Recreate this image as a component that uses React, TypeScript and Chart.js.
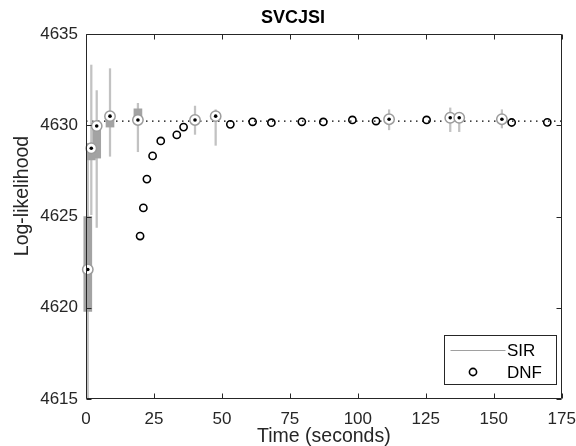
import React, { useEffect, useRef } from 'react';
import { Chart, registerables } from 'chart.js';

Chart.register(...registerables);

// ---------- data ----------
const chartTitle = 'SVCJSI';
const xAxisTitle = 'Time (seconds)';
const yAxisTitle = 'Log-likelihood';
const xTicks = [0, 25, 50, 75, 100, 125, 150, 175];
const yTicks = [4615, 4620, 4625, 4630, 4635];
const legendLabels = ['SIR', 'DNF'];

// SIR box plots (time, quartiles, whiskers)
const sirTimes = [0.66, 1.95, 3.94, 8.83, 19.1, 40.1, 47.7, 111.5, 134.0, 137.3, 153.0];
const sirMedian = [4622.1, 4628.74, 4629.96, 4630.5, 4630.29, 4630.29, 4630.5, 4630.33, 4630.41, 4630.41, 4630.33];
const sirQ1 = [4619.8, 4628.1, 4628.2, 4629.9, 4630.28, 4630.2, 4630.4, 4630.25, 4630.3, 4630.3, 4630.25];
const sirQ3 = [4625.0, 4629.0, 4630.1, 4630.5, 4630.9, 4630.4, 4630.55, 4630.4, 4630.5, 4630.5, 4630.4];
const sirLow = [4615.0, 4625.1, 4624.4, 4628.3, 4628.55, 4629.5, 4628.9, 4629.75, 4629.65, 4629.65, 4629.85];
const sirHigh = [4628.5, 4633.3, 4631.9, 4633.1, 4631.2, 4631.05, 4630.85, 4630.85, 4630.95, 4630.7, 4630.85];

// DNF estimates
const dnfTimes = [19.9, 21.1, 22.4, 24.5, 27.5, 33.4, 35.9, 53.1, 61.3, 68.2, 79.4, 87.3, 98.0, 106.7, 125.3, 156.6, 169.7];
const dnfValues = [4623.93, 4625.47, 4627.05, 4628.32, 4629.14, 4629.47, 4629.9, 4630.05, 4630.19, 4630.14, 4630.19, 4630.18, 4630.29, 4630.23, 4630.29, 4630.15, 4630.16];

// reference (true) log-likelihood
const refValue = 4630.23;
const refRange = [0, 175];

const AXIS = '#262626';
const BOX = '#a3a3a3';
const WHISK = '#c2c2c2';
const RING = '#9c9c9c';
const FONT = "'Liberation Sans', Arial, Helvetica, sans-serif";

const matlabAxes = {
  id: 'matlabAxes',
  afterDatasetsDraw(chart: any) {
    const { ctx, chartArea: a, scales } = chart;
    const x = scales.x;
    const y = scales.y;
    const L = Math.round(a.left) + 0.5;
    const R = Math.round(a.right) - 0.5;
    const T = Math.round(a.top) + 0.5;
    const B = Math.round(a.bottom) - 0.5;
    const tl = 5;
    ctx.save();
    ctx.strokeStyle = AXIS;
    ctx.lineWidth = 1;
    ctx.beginPath();
    ctx.rect(L, T, R - L, B - T);
    x.ticks.forEach((t: any) => {
      const px = Math.round(x.getPixelForValue(t.value)) + 0.5;
      ctx.moveTo(px, B);
      ctx.lineTo(px, B - tl);
      ctx.moveTo(px, T);
      ctx.lineTo(px, T + tl);
    });
    y.ticks.forEach((t: any) => {
      const py = Math.round(y.getPixelForValue(t.value)) + 0.5;
      ctx.moveTo(L, py);
      ctx.lineTo(L + tl, py);
      ctx.moveTo(R, py);
      ctx.lineTo(R - tl, py);
    });
    ctx.stroke();

    // y axis title
    ctx.save();
    ctx.translate(22.5, 196);
    ctx.rotate(-Math.PI / 2);
    ctx.fillStyle = AXIS;
    ctx.font = `19.5px ${FONT}`;
    ctx.textAlign = 'center';
    ctx.textBaseline = 'middle';
    ctx.fillText(yAxisTitle, 0, 0);
    ctx.restore();

    // legend (inside, bottom-right)
    const w = 112;
    const h = 49;
    const lx = Math.round(a.right - 6 - w) + 0.5;
    const ly = Math.round(a.bottom - 15 - h) + 0.5;
    ctx.fillStyle = '#ffffff';
    ctx.fillRect(lx, ly, w, h);
    ctx.strokeStyle = AXIS;
    ctx.lineWidth = 1;
    ctx.strokeRect(lx, ly, w, h);
    const row1 = ly + 15;
    const row2 = ly + 36.5;
    ctx.strokeStyle = '#a0a0a0';
    ctx.beginPath();
    ctx.moveTo(lx + 6, row1);
    ctx.lineTo(lx + 61, row1);
    ctx.stroke();
    ctx.strokeStyle = '#000';
    ctx.lineWidth = 1.6;
    ctx.beginPath();
    ctx.arc(lx + 28.5, row2, 3.6, 0, Math.PI * 2);
    ctx.stroke();
    ctx.fillStyle = '#000';
    ctx.font = `17px ${FONT}`;
    ctx.textBaseline = 'middle';
    ctx.textAlign = 'left';
    ctx.fillText(legendLabels[0], lx + 62.5, row1 + 1);
    ctx.fillText(legendLabels[1], lx + 62.5, row2 + 1);
    ctx.restore();
  },
};

export default function App() {
  const ref = useRef<HTMLCanvasElement>(null);

  useEffect(() => {
    if (!ref.current) return;
    const whiskers = sirTimes.map((t, i) => ({ x: t, y: [sirLow[i], sirHigh[i]] }));
    const boxes = sirTimes.map((t, i) => ({ x: t, y: [sirQ1[i], sirQ3[i]] }));
    const medians = sirTimes.map((t, i) => ({ x: t, y: sirMedian[i] }));
    const dnf = dnfTimes.map((t, i) => ({ x: t, y: dnfValues[i] }));
    const refLine = refRange.map((t) => ({ x: t, y: refValue }));

    const chart = new Chart(ref.current, {
      type: 'scatter',
      data: {
        datasets: [
          {
            type: 'line',
            label: 'ref',
            data: refLine,
            borderColor: '#000',
            borderWidth: 1.3,
            borderDash: [1.5, 4.5],
            pointRadius: 0,
            order: 6,
          },
          {
            type: 'bar',
            label: 'SIR whiskers',
            data: whiskers as any,
            backgroundColor: WHISK,
            borderWidth: 0,
            barThickness: 1.6,
            grouped: false,
            clip: false,
            order: 5,
          },
          {
            type: 'bar',
            label: 'SIR',
            data: boxes as any,
            backgroundColor: BOX,
            borderWidth: 0,
            barThickness: 8,
            grouped: false,
            clip: false,
            order: 4,
          },
          {
            type: 'scatter',
            label: 'SIR median ring',
            data: medians,
            pointStyle: 'circle',
            pointRadius: 5.2,
            borderWidth: 1.5,
            borderColor: RING,
            backgroundColor: '#ffffff',
            clip: false,
            order: 3,
          },
          {
            type: 'scatter',
            label: 'SIR median dot',
            data: medians,
            pointStyle: 'circle',
            pointRadius: 1.8,
            borderWidth: 0,
            backgroundColor: '#000',
            clip: false,
            order: 2,
          },
          {
            type: 'scatter',
            label: 'DNF',
            data: dnf,
            pointStyle: 'circle',
            pointRadius: 3.6,
            borderWidth: 1.6,
            borderColor: '#000',
            backgroundColor: 'rgba(0,0,0,0)',
            order: 1,
          },
        ],
      },
      options: {
        responsive: false,
        animation: false,
        devicePixelRatio: 1,
        events: [],
        layout: { padding: { left: 10, right: 0, top: 0, bottom: 0 } },
        plugins: {
          legend: { display: false },
          tooltip: { enabled: false },
          title: {
            display: true,
            text: chartTitle,
            color: '#000',
            font: { family: FONT, size: 18, weight: 'bold' },
            padding: { top: 7.5, bottom: 4.9 },
          },
        },
        scales: {
          x: {
            type: 'linear',
            min: 0,
            max: 175,
            offset: false,
            afterBuildTicks: (s: any) => {
              s.ticks = xTicks.map((v) => ({ value: v }));
            },
            afterFit: (s: any) => {
              s.height = 47;
              s.paddingRight = 14.3;
            },
            grid: { display: false, drawTicks: false },
            border: { display: false },
            ticks: {
              color: AXIS,
              font: { family: FONT, size: 17 },
              padding: 10,
              maxRotation: 0,
              autoSkip: false,
              callback: (v: any) => String(v),
            },
            title: {
              display: true,
              text: xAxisTitle,
              color: AXIS,
              font: { family: FONT, size: 19.5 },
              padding: { top: 0, bottom: -2 },
            },
          },
          y: {
            type: 'linear',
            min: 4615,
            max: 4635,
            afterBuildTicks: (s: any) => {
              s.ticks = yTicks.map((v) => ({ value: v }));
            },
            afterFit: (s: any) => {
              s.width = 76;
            },
            grid: { display: false, drawTicks: false },
            border: { display: false },
            ticks: {
              color: AXIS,
              font: { family: FONT, size: 17 },
              padding: 8,
              autoSkip: false,
              callback: (v: any) => String(v),
            },
            title: { display: false },
          },
        },
      },
      plugins: [matlabAxes],
    });
    return () => chart.destroy();
  }, []);

  return (
    <div style={{ position: 'fixed', left: 0, top: 0, width: 576, height: 446, background: '#fff' }}>
      <canvas ref={ref} width={576} height={446} style={{ width: 576, height: 446, display: 'block' }} />
    </div>
  );
}
